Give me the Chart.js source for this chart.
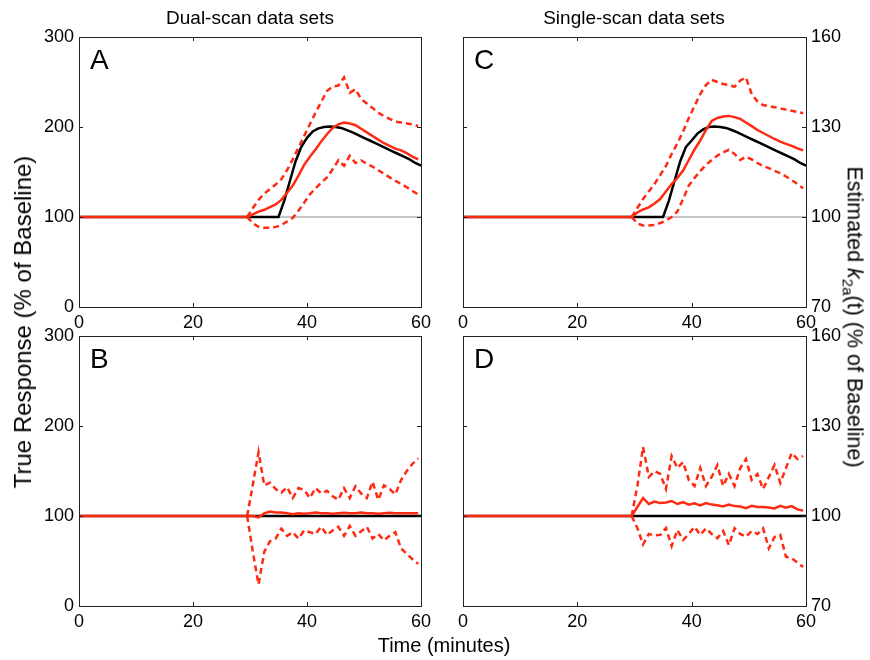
<!DOCTYPE html>
<html>
<head>
<meta charset="utf-8">
<script src="https://cdn.jsdelivr.net/npm/chart.js@4.4.1/dist/chart.umd.min.js"></script>
<style>
body { margin: 0; background: #fff; font-family: 'Liberation Sans', Arial, sans-serif; }
#wrap { position: relative; width: 870px; height: 660px; overflow: hidden; }
canvas { position: absolute; left: 0; top: 0; }
.txt { position: absolute; white-space: nowrap; color: #000; transform: translate(-50%, -50%); }
.letter { position: absolute; font-size: 28px; line-height: 1; }
</style>
</head>
<body>
<div id="wrap">
  <canvas id="cA" width="870" height="660"></canvas>
  <canvas id="cB" width="870" height="660"></canvas>
  <canvas id="cC" width="870" height="660"></canvas>
  <canvas id="cD" width="870" height="660"></canvas>

  <div class="txt" style="left:250px;top:18px;font-size:19px">Dual-scan data sets</div>
  <div class="txt" style="left:634px;top:18px;font-size:19px">Single-scan data sets</div>
  <div class="txt" style="left:444px;top:645px;font-size:20px">Time (minutes)</div>
  <div class="txt" style="left:23px;top:322px;font-size:24px;transform:translate(-50%,-50%) rotate(-90deg)">True Response (% of Baseline)</div>
  <div class="txt" style="left:853px;top:317px;font-size:21.5px;transform:translate(-50%,-50%) rotate(90deg)">Estimated <i>k</i><sub style="font-size:15px">2a</sub>(t) (% of Baseline)</div>

  <div class="letter" style="left:90px;top:46px">A</div>
  <div class="letter" style="left:90px;top:345px">B</div>
  <div class="letter" style="left:474px;top:46px">C</div>
  <div class="letter" style="left:474px;top:345px">D</div>
</div>

<script>
// time points (minutes)
const tEst = [0, 29.5, 30.5, 31.5, 32.5, 33.5, 34.5, 35.5, 36.5, 37.5, 38.5, 39.5, 40.5, 41.5, 42.5, 43.5,
  44.5, 45.5, 46.5, 47.5, 48.5, 49.5, 50.5, 51.5, 52.5, 53.5, 54.5, 55.5, 56.5, 57.5, 58.5, 59.5];
const tTrue = [0, 35, 36, 37, 38, 39, 40, 41, 42, 43, 44, 45, 46, 47, 48, 49, 50, 51, 52, 53, 54, 55, 56, 57, 58, 59, 60];
const tFlat = [0, 60];

// true response
const trueA = [100, 100, 118, 140, 162, 178, 188, 195, 198.5, 200, 200.5, 200, 199, 196.5, 194, 191, 188, 185, 182, 179, 176, 173, 170, 167, 164, 160, 157];
const trueC = [100, 100, 105.4, 112, 118.6, 123.4, 125.5, 127.8, 129.2, 130, 130.2, 130, 129.7, 129, 128.2, 127.3, 126.4, 125.5, 124.6, 123.7, 122.8, 121.9, 121, 120.1, 119.2, 118, 117.1];
const trueFlat = [100, 100];

// panel A: dual-scan, response present
const meanA = [100, 100, 103, 106, 108, 111, 114, 119, 127, 135, 146, 158, 167, 175, 184, 192, 199, 203, 205, 204, 202, 198, 194, 190, 186, 182, 179, 176, 174, 171, 167, 164];
const hiA = [null, 100, 110, 119, 126, 131, 136, 142, 152, 164, 177, 190, 203, 216, 228, 240, 245, 246, 255, 238, 242, 231, 226, 221, 216, 212, 209, 206, 205, 204, 203, 201];
const loA = [null, 100, 93, 89, 88, 88, 89, 91, 95, 99, 107, 116, 125, 132, 138, 144, 153, 163, 157, 168, 160, 163, 159, 156, 152, 148, 144, 140, 137, 133, 129, 125];

// panel B: dual-scan, no response
const meanB = [100, 100, 100, 98.5, 103, 105, 104, 104, 103, 102, 103, 102.5, 103, 104, 103, 103, 102.5, 103, 103.5, 103, 103, 104, 103, 103, 102.5, 103, 103.5, 103, 103, 103, 103, 103];
const hiB = [null, 100, 135, 171, 134, 137, 130, 126, 132, 120, 131, 129, 120, 131, 125, 128, 122, 118, 131, 120, 133, 125, 120, 138, 118, 134, 130, 124, 140, 150, 158, 164];
const loB = [null, 100, 60, 24, 60, 72, 75, 86, 78, 82, 75, 84, 82, 80, 88, 79, 84, 88, 78, 89, 78, 83, 88, 75, 80, 73, 78, 82, 64, 58, 52, 47];

// panel C: single-scan, response present (k2a %)
const meanC = [100, 100, 101.5, 102.5, 103.2, 104.5, 106, 108.5, 111, 113, 115.5, 119, 122.5, 125.5, 129, 132, 133, 133.5, 133.7, 133.3, 132.7, 131.5, 130.3, 129, 128, 127, 126, 125.1, 124.4, 123.7, 122.9, 122.2];
const hiC = [null, 100, 103, 106, 108.5, 111, 114, 117, 121, 124.5, 128.5, 133, 137, 141, 144, 145.7, 145, 144.3, 144, 143.4, 145.5, 146.5, 141, 138.5, 137.3, 137, 136.6, 136.2, 135.8, 135.4, 135, 134.6];
const loC = [null, 100, 97.8, 97.2, 97.2, 97.3, 98, 98.8, 100, 101.8, 106, 110.5, 113, 115.3, 117.3, 119, 120.5, 121.5, 122.4, 121, 119, 120.1, 119.2, 118, 117, 116.3, 115.4, 114.6, 113.5, 112.3, 111, 109.6];

// panel D: single-scan, no response (k2a %)
const meanD = [100, 100, 103, 106, 104, 104.8, 104.3, 104.5, 105, 104, 104.6, 103.8, 104.2, 103.5, 104.3, 103.8, 103.6, 103.2, 103.8, 103.3, 103.2, 102.6, 103.4, 103, 103, 102.8, 102.5, 103.4, 102.8, 103.3, 102.2, 101.8];
const hiD = [null, 100, 110, 123, 113, 115, 114, 109, 120, 116, 118, 112, 110, 116, 110, 113, 117, 110, 114, 110, 116, 119, 112, 114, 109, 113, 117, 111, 116, 121, 119, 120];
const loD = [null, 100, 96, 90.5, 94, 93.5, 93.7, 96, 90, 95.3, 92, 94, 96.4, 93.7, 95.9, 94, 92.6, 95, 90.3, 95.9, 94, 93.1, 95, 94, 95.9, 89.2, 93, 93.7, 86.4, 85.9, 84.5, 83];

const xTicks = [0, 20, 40, 60];
const yTicksTrue = [0, 100, 200, 300];
const yTicksK2a = [70, 100, 130, 160];

const RED = '#ff2a12';

Chart.defaults.font.family = "'Liberation Sans', Arial, sans-serif";
Chart.defaults.font.size = 18;
Chart.defaults.color = '#000';

function pts(ts, vs) {
  return ts.map((t, i) => ({ x: t, y: vs[i] }));
}

// box round the plot with small inward ticks, like the original
const frame = {
  id: 'frame',
  afterDatasetsDraw(chart) {
    const { ctx, chartArea: a, scales } = chart;
    const ys = scales.y;
    ctx.save();
    ctx.strokeStyle = '#222';
    ctx.lineWidth = 1;
    ctx.strokeRect(a.left + 0.5, a.top + 0.5, a.right - a.left, a.bottom - a.top);
    ctx.beginPath();
    scales.x.ticks.forEach(tk => {
      const px = Math.round(scales.x.getPixelForValue(tk.value)) + 0.5;
      ctx.moveTo(px, a.bottom); ctx.lineTo(px, a.bottom - 4);
      ctx.moveTo(px, a.top); ctx.lineTo(px, a.top + 4);
    });
    ys.ticks.forEach(tk => {
      const py = Math.round(ys.getPixelForValue(tk.value)) + 0.5;
      ctx.moveTo(a.left, py); ctx.lineTo(a.left + 4, py);
      ctx.moveTo(a.right, py); ctx.lineTo(a.right - 4, py);
    });
    ctx.stroke();
    ctx.restore();
  }
};

function panel(id, area, yPos, yMin, yMax, yTicks, series) {
  const yW = 50;
  const xH = 30;
  const pad = {
    left: yPos === 'left' ? area.left - yW : area.left,
    right: yPos === 'right' ? 870 - area.right - yW : 870 - area.right,
    top: area.top,
    bottom: 660 - area.bottom - xH
  };
  const datasets = [
    { data: pts(series.tMean, series.mean), borderColor: RED, borderWidth: 2.5 },
    { data: pts(tEst, series.hi), borderColor: RED, borderWidth: 2.5, borderDash: [6, 4] },
    { data: pts(tEst, series.lo), borderColor: RED, borderWidth: 2.5, borderDash: [6, 4] },
    { data: pts(series.tTrue, series.truth), borderColor: '#000', borderWidth: 2.5 }
  ];
  if (series.base) {
    datasets.push({ data: pts(tFlat, series.base), borderColor: '#8c8c8c', borderWidth: 1 });
  }
  datasets.forEach(d => { d.pointRadius = 0; d.fill = false; d.tension = 0; });

  new Chart(document.getElementById(id), {
    type: 'line',
    data: { datasets: datasets },
    options: {
      responsive: false,
      animation: false,
      events: [],
      layout: { padding: pad },
      plugins: { legend: { display: false }, tooltip: { enabled: false } },
      scales: {
        x: {
          type: 'linear', min: 0, max: 60,
          grid: { display: false, drawTicks: false },
          border: { display: false },
          afterBuildTicks: s => { s.ticks = xTicks.map(v => ({ value: v })); },
          ticks: { padding: 5, maxRotation: 0 },
          afterFit: s => { s.height = xH; s.paddingLeft = 0; s.paddingRight = 0; }
        },
        y: {
          position: yPos, min: yMin, max: yMax,
          grid: { display: false, drawTicks: false },
          border: { display: false },
          afterBuildTicks: s => { s.ticks = yTicks.map(v => ({ value: v })); },
          ticks: { padding: 5 },
          afterFit: s => { s.width = yW; s.paddingTop = 0; s.paddingBottom = 0; }
        }
      }
    },
    plugins: [frame]
  });
}

panel('cA', { left: 79, right: 421, top: 37, bottom: 307 }, 'left', 0, 300, yTicksTrue,
  { tMean: tEst, mean: meanA, hi: hiA, lo: loA, tTrue: tTrue, truth: trueA, base: trueFlat });
panel('cB', { left: 79, right: 421, top: 336, bottom: 606 }, 'left', 0, 300, yTicksTrue,
  { tMean: tEst, mean: meanB, hi: hiB, lo: loB, tTrue: tFlat, truth: trueFlat });
panel('cC', { left: 463, right: 806, top: 37, bottom: 307 }, 'right', 70, 160, yTicksK2a,
  { tMean: tEst, mean: meanC, hi: hiC, lo: loC, tTrue: tTrue, truth: trueC, base: trueFlat });
panel('cD', { left: 463, right: 806, top: 336, bottom: 606 }, 'right', 70, 160, yTicksK2a,
  { tMean: tEst, mean: meanD, hi: hiD, lo: loD, tTrue: tFlat, truth: trueFlat });
</script>
</body>
</html>
